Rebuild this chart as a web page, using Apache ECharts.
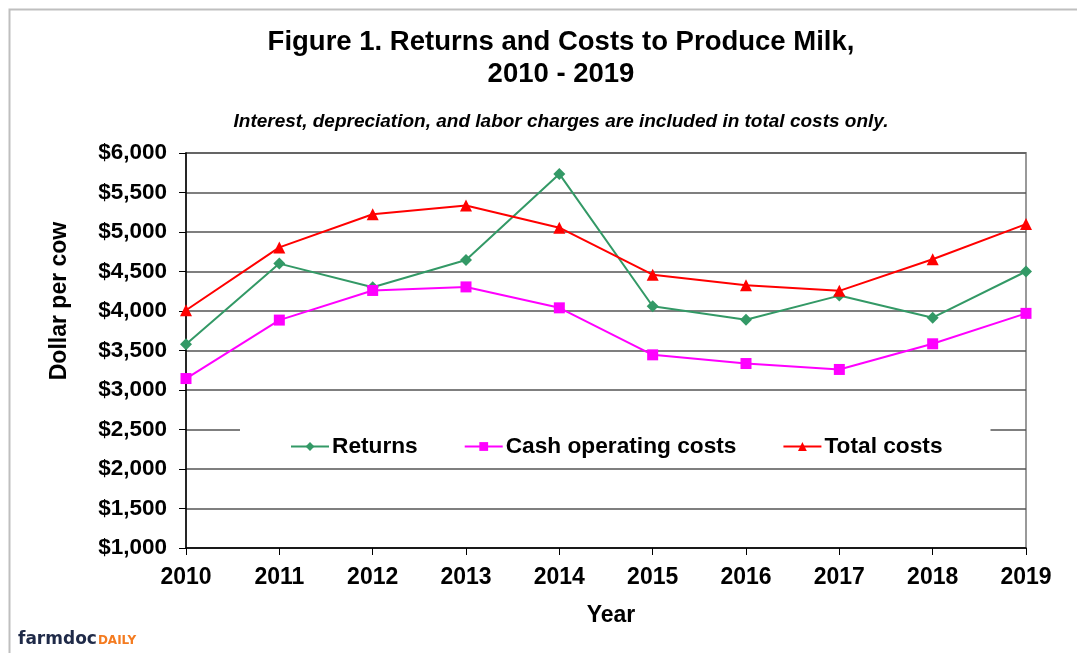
<!DOCTYPE html>
<html>
<head>
<meta charset="utf-8">
<script src="https://cdn.jsdelivr.net/npm/echarts@6/dist/echarts.min.js"></script>
<style>html,body{margin:0;padding:0;background:#fff;}#c{width:1077px;height:653px;}</style>
</head>
<body>
<div id="c"></div>
<script>
var years = ['2010','2011','2012','2013','2014','2015','2016','2017','2018','2019'];
var returns = [3580, 4600, 4300, 4645, 5735, 4060, 3890, 4195, 3915, 4500];
var cashCosts = [3145, 3885, 4260, 4305, 4040, 3445, 3335, 3260, 3585, 3970];
var totalCosts = [4010, 4805, 5225, 5335, 5055, 4460, 4325, 4255, 4655, 5100];
var seriesNames = ['Returns', 'Cash operating costs', 'Total costs'];
var yMin = 1000, yMax = 6000, yStep = 500;

var FONT = 'Liberation Sans, Arial, sans-serif';
var chart = echarts.init(document.getElementById('c'));
chart.setOption({
  animation: false,
  backgroundColor: '#fff',
  textStyle: { fontFamily: FONT },
  title: [{
    text: 'Figure 1. Returns and Costs to Produce Milk,\n2010 - 2019',
    left: 556, top: 21, textAlign: 'center',
    textStyle: { fontFamily: FONT, fontSize: 27.5, fontWeight: 'bold', color: '#000', lineHeight: 32 }
  }, {
    text: 'Interest, depreciation, and labor charges are included in total costs only.',
    left: 556, top: 107, textAlign: 'center',
    textStyle: { fontFamily: FONT, fontSize: 19, fontWeight: 'bold', fontStyle: 'italic', color: '#000' }
  }],
  graphic: [{
    type: 'rect', left: 7, top: 7, shape: { width: 1100, height: 700 },
    style: { fill: 'none', stroke: '#bfbfbf', lineWidth: 2 }, silent: true, z: -10
  }, {
    type: 'rect', shape: { x: 186, y: 153, width: 840, height: 395 },
    style: { fill: 'none', stroke: '#999', lineWidth: 2 }, silent: true, z: 0
  }, {
    type: 'text', x: 60, y: 301, rotation: Math.PI / 2,
    style: {
      text: 'Dollar per cow', fontFamily: FONT, fontSize: 23, fontWeight: 'bold', fill: '#000',
      align: 'center', verticalAlign: 'middle'
    }
  }, {
    type: 'text', left: 18, top: 631,
    style: {
      text: '{a|farmdoc}{b|DAILY}',
      rich: {
        a: { fontFamily: 'DejaVu Sans, sans-serif', fontSize: 17, fontWeight: 'bold', fill: '#1f2a48' },
        b: { fontFamily: 'DejaVu Sans, sans-serif', fontSize: 12, fontWeight: 'bold', fill: '#f47b20', padding: [3, 0, 0, 1] }
      }
    }
  }],
  legend: {
    data: seriesNames,
    left: 240, top: 428,
    padding: [7, 48, 7, 50],
    backgroundColor: '#fff',
    itemWidth: 38, itemHeight: 11, itemGap: 46,
    textStyle: { fontFamily: FONT, fontSize: 22.7, fontWeight: 'bold', color: '#000', padding: [0, 0, 0, -2] },
    z: 3
  },
  grid: { left: 186, right: 51, top: 153, bottom: 105, containLabel: false },
  xAxis: {
    type: 'category', data: years, boundaryGap: false,
    name: 'Year', nameLocation: 'middle', nameGap: 56,
    nameTextStyle: { fontFamily: FONT, fontSize: 23, fontWeight: 'bold', color: '#000', padding: [0, 0, 0, 10] },
    axisLine: { lineStyle: { color: '#000', width: 1.5 } },
    axisTick: { show: true, length: 7, alignWithLabel: true, lineStyle: { color: '#000' } },
    axisLabel: { margin: 18, fontFamily: FONT, fontSize: 23, fontWeight: 'bold', color: '#000' },
    splitLine: { show: false }
  },
  yAxis: {
    type: 'value', min: yMin, max: yMax, interval: yStep,
    axisLine: { show: true, lineStyle: { color: '#000', width: 1.5 } },
    axisTick: { show: true, length: 7, lineStyle: { color: '#000' } },
    axisLabel: {
      margin: 19, fontFamily: FONT, fontSize: 22.5, fontWeight: 'bold', color: '#000',
      formatter: function (v) { return '$' + v.toLocaleString('en-US'); }
    },
    splitLine: { show: true, lineStyle: { color: '#555', width: 1.5 } }
  },
  series: [{
    name: seriesNames[0], type: 'line', data: returns,
    symbol: 'diamond', symbolSize: 12,
    itemStyle: { color: '#339966' }, lineStyle: { color: '#339966', width: 2 }, z: 5
  }, {
    name: seriesNames[1], type: 'line', data: cashCosts,
    symbol: 'rect', symbolSize: 11,
    itemStyle: { color: '#ff00ff' }, lineStyle: { color: '#ff00ff', width: 2 }, z: 5
  }, {
    name: seriesNames[2], type: 'line', data: totalCosts,
    symbol: 'triangle', symbolSize: 12,
    itemStyle: { color: '#ff0000' }, lineStyle: { color: '#ff0000', width: 2 }, z: 5
  }]
});
</script>
</body>
</html>
